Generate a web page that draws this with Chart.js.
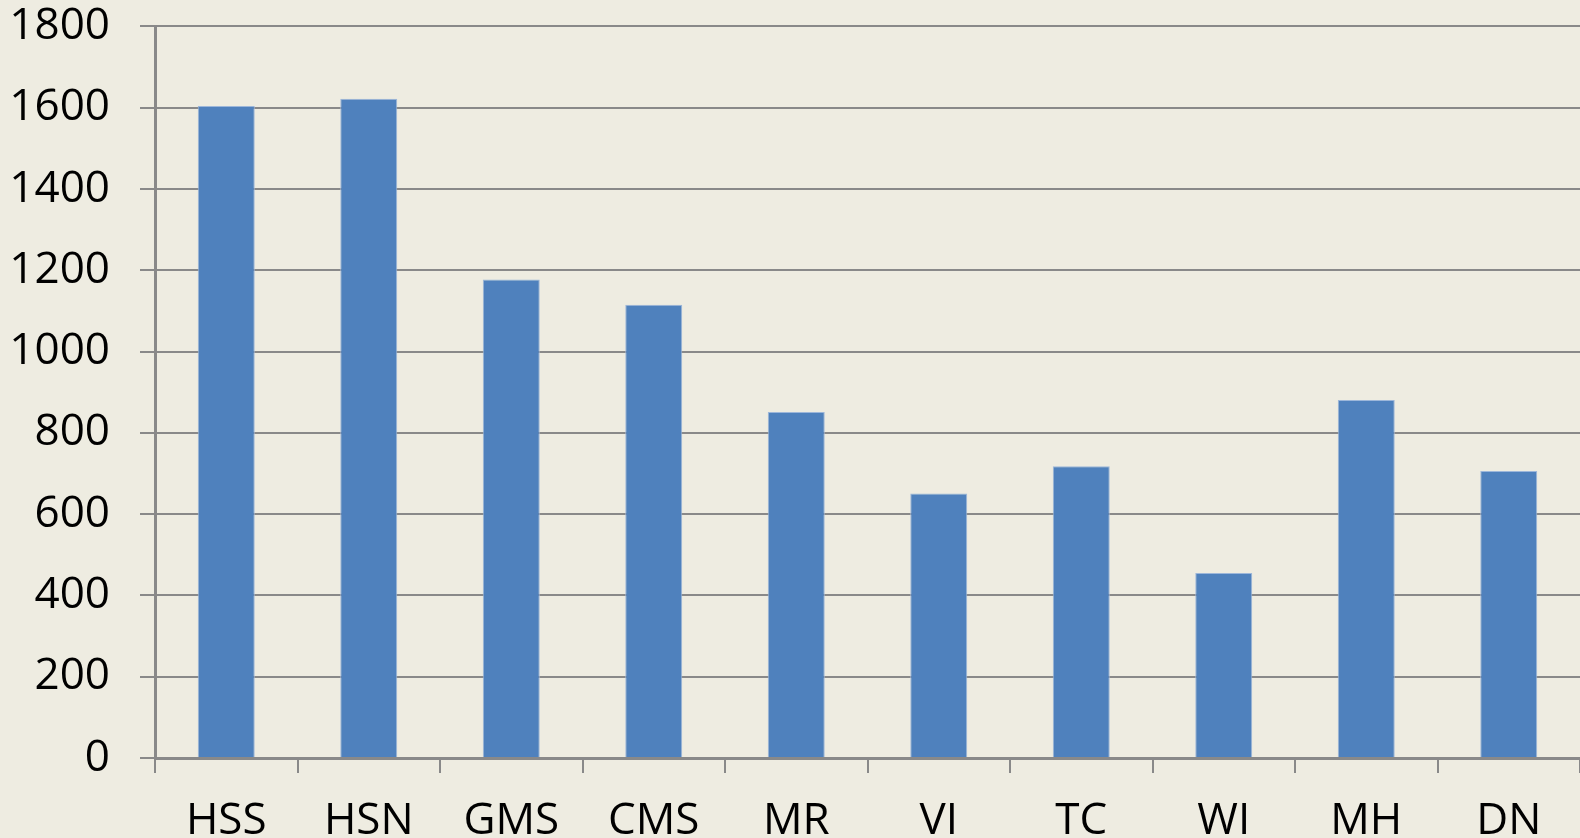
<!DOCTYPE html>
<html>
<head>
<meta charset="utf-8">
<script src="https://cdn.jsdelivr.net/npm/chart.js@4"></script>
<style>
  html, body { margin: 0; padding: 0; background: #EEECE1; overflow: hidden; width: 1580px; height: 838px; }
  #wrap { position: absolute; left: 0; top: -30px; }
</style>
</head>
<body>
<div id="wrap"><canvas id="chart" width="1580" height="910"></canvas></div>
<script>
// данные
const categories = ['HSS', 'HSN', 'GMS', 'CMS', 'MR', 'VI', 'TC', 'WI', 'MH', 'DN'];
const values = [1604, 1622, 1177, 1115, 851, 651, 718, 455, 881, 706];
const yTicks = [0, 200, 400, 600, 800, 1000, 1200, 1400, 1600, 1800];

const gridColor = '#898989';
const labelFont = { family: "'Open Sans', 'Noto Sans', sans-serif", size: 44 };

const ctx = document.getElementById('chart').getContext('2d');
new Chart(ctx, {
    type: 'bar',
    data: {
        labels: categories,
        datasets: [{
            data: values,
            backgroundColor: '#4F81BD',
            borderColor: '#9DB7DA',
            borderWidth: 1,
            barPercentage: 0.4,
            categoryPercentage: 1.0
        }]
    },
    options: {
        responsive: false,
        animation: false,
        devicePixelRatio: 1,
        plugins: { legend: { display: false }, tooltip: { enabled: false } },
        scales: {
            x: {
                offset: true,
                grid: {
                    offset: true,
                    drawOnChartArea: false,
                    drawTicks: true,
                    tickLength: 15,
                    color: gridColor,
                    lineWidth: 2
                },
                border: { color: gridColor, width: 3 },
                ticks: { color: '#000', font: labelFont, padding: 22 },
                // высота оси под 0-линией (канвас сдвинут на 30px вверх)
                afterFit: (scale) => { scale.height = 910 - 788; }
            },
            y: {
                min: 0,
                max: 1800,
                afterBuildTicks: (scale) => { scale.ticks = yTicks.map(v => ({ value: v })); },
                grid: {
                    color: gridColor,
                    lineWidth: 2,
                    drawTicks: true,
                    tickLength: 15
                },
                border: { color: gridColor, width: 3 },
                ticks: {
                    color: '#000',
                    font: labelFont,
                    padding: 30,
                    callback: (v) => String(v)
                },
                afterFit: (scale) => { scale.width = 155; }
            }
        }
    }
});
</script>
</body>
</html>
